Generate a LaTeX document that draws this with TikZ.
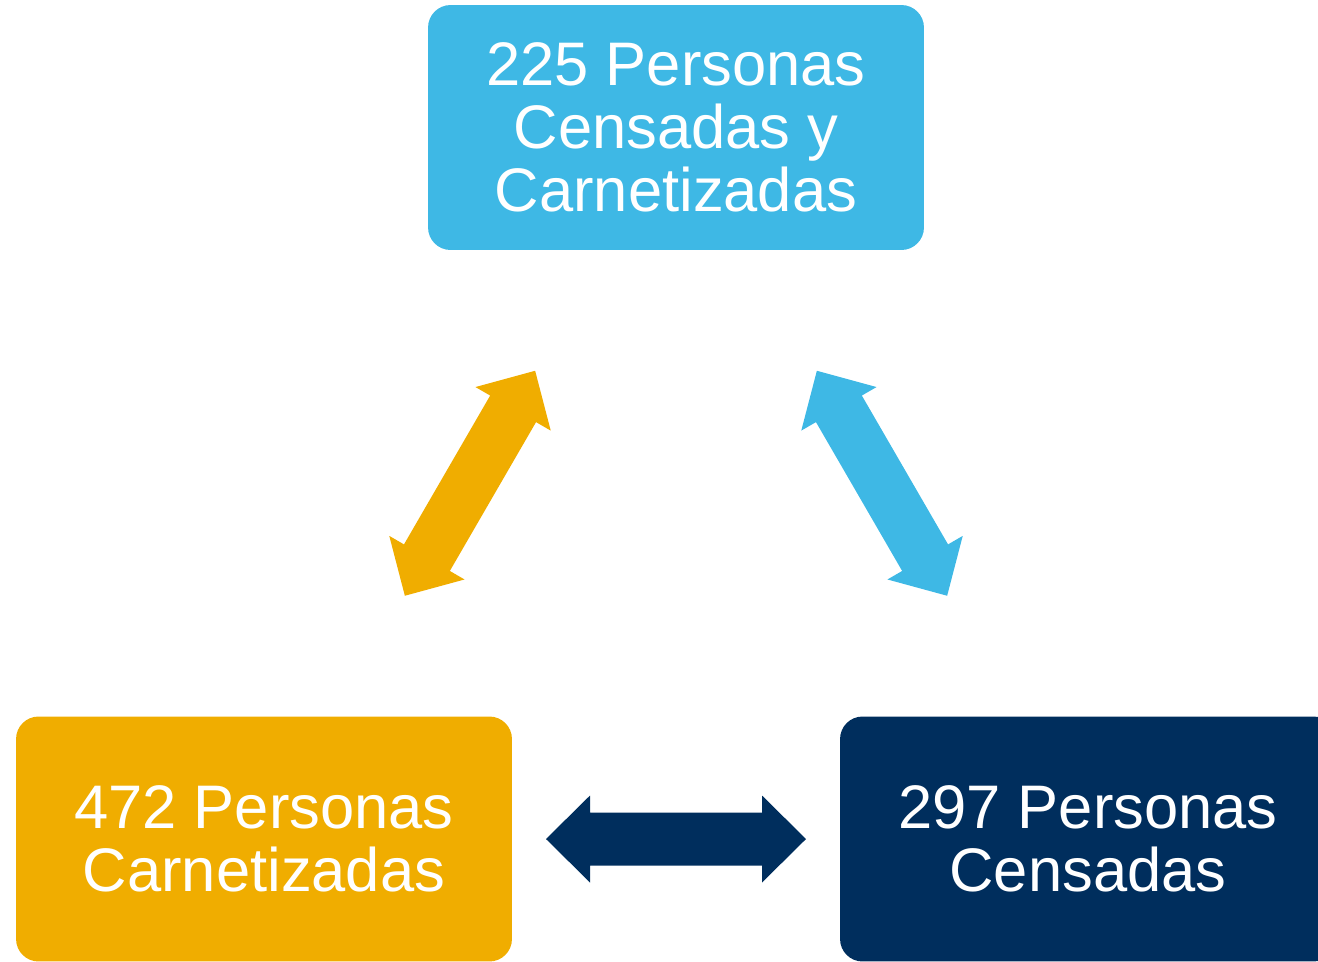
\documentclass[tikz,border=0pt]{standalone}
\usepackage{fontspec}
\setmainfont{Liberation Sans}
\definecolor{celeste}{RGB}{62,184,229}
\definecolor{naranja}{RGB}{240,173,0}
\definecolor{marino}{RGB}{0,46,93}
\begin{document}
\begin{tikzpicture}[x=0.02cm, y=0.02cm,
	caja/.style={fill=#1, rounded corners=0.45cm, minimum width=9.92cm,
	minimum height=4.9cm, text=white, align=center,
	font=\fontsize{35}{36}\selectfont, inner sep=0pt},
	flecha/.pic={\fill[#1] (-130,0) -- (-86,43.5) -- (-86,26.5) -- (86,26.5)
	-- (86,43.5) -- (130,0) -- (86,-43.5) -- (86,-26.5) -- (-86,-26.5)
	-- (-86,-43.5) -- cycle;}]
\useasboundingbox (0,0) rectangle (1318,-961);
% Cajas
\node[caja=celeste] (ambas) at (676,-127.5) {225 Personas\\Censadas y\\Carnetizadas};
\node[caja=naranja] (carnet) at (264,-839) {472 Personas\\Carnetizadas};
\node[caja=marino] (censo) at (1088,-839) {297 Personas\\Censadas};
% Flechas
\path (carnet.center) -- (ambas.center) pic[midway, sloped] {flecha=naranja};
\path (ambas.center) -- (censo.center) pic[midway, sloped] {flecha=celeste};
\path (carnet.center) -- (censo.center) pic[midway, sloped] {flecha=marino};
\end{tikzpicture}
\end{document}
